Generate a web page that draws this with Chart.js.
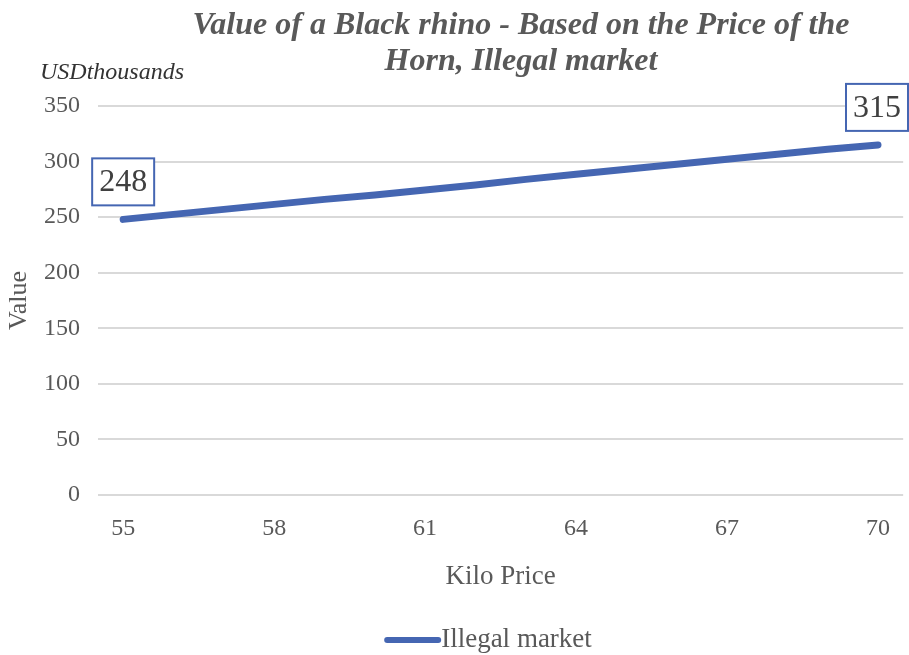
<!DOCTYPE html>
<html>
<head>
<meta charset="utf-8">
<script src="https://cdn.jsdelivr.net/npm/chart.js@4.4.1/dist/chart.umd.min.js"></script>
<style>
  html, body { margin: 0; padding: 0; background: #ffffff; }
  #wrap { width: 909px; height: 655px; position: relative; }
</style>
</head>
<body>
<div id="wrap"><canvas id="chart" width="909" height="655"></canvas></div>
<script>
// Kilo price of horn (USD) and resulting value of a black rhino (USD thousands)
const categories = ['55','56','57','58','59','60','61','62','63','64','65','66','67','68','69','70'];
const illegalMarket = [248, 252.5, 257, 261.5, 266, 270, 274.5, 279, 284, 288.5, 293, 297.5, 302, 306.5, 311, 315];
const seriesName = 'Illegal market';
const labeledIndexes = [0, 15];
const titleLines = ['Value of a Black rhino - Based on the Price of the', 'Horn, Illegal market'];
const unitText = 'USDthousands';
const xTitle = 'Kilo Price';
const yTitle = 'Value';

const SERIF = "'Liberation Serif', 'Times New Roman', serif";
const BLUE = '#4566B2';
const GREY = '#595959';

// Chart heading, unit note, boxed value labels and the series key
const annotations = {
  id: 'annotations',
  afterDraw(chart) {
    const ctx = chart.ctx;
    ctx.save();
    ctx.fillStyle = GREY;
    ctx.font = `italic bold 32px ${SERIF}`;
    ctx.textAlign = 'center';
    ctx.textBaseline = 'middle';
    titleLines.forEach((line, i) => ctx.fillText(line, 521, 26 + i * 36));

    ctx.fillStyle = '#333333';
    ctx.font = `italic 24px ${SERIF}`;
    ctx.textAlign = 'left';
    ctx.fillText(unitText, 40, 73);

    const meta = chart.getDatasetMeta(0);
    ctx.font = `32px ${SERIF}`;
    labeledIndexes.forEach(idx => {
      const pt = meta.data[idx];
      const text = String(Math.round(illegalMarket[idx]));
      const w = ctx.measureText(text).width + 14;
      const h = 47;
      let left = pt.x - w / 2;
      if (left + w > chart.width - 1) left = chart.width - 1 - w;
      const top = pt.y - 14 - h;
      ctx.fillStyle = '#ffffff';
      ctx.fillRect(left, top, w, h);
      ctx.strokeStyle = BLUE;
      ctx.lineWidth = 2;
      ctx.strokeRect(left, top, w, h);
      ctx.fillStyle = '#404040';
      ctx.textAlign = 'center';
      ctx.fillText(text, left + w / 2, top + h / 2 + 1);
    });

    // series key under the axis title
    ctx.font = `27px ${SERIF}`;
    const keyW = 57;
    const textW = ctx.measureText(seriesName).width;
    const start = 488 - (keyW + textW) / 2;
    const ky = 640;
    ctx.strokeStyle = BLUE;
    ctx.lineWidth = 6;
    ctx.lineCap = 'round';
    ctx.beginPath();
    ctx.moveTo(start + 3, ky);
    ctx.lineTo(start + keyW - 3, ky);
    ctx.stroke();
    ctx.fillStyle = GREY;
    ctx.textAlign = 'left';
    ctx.fillText(seriesName, start + keyW, ky);
    ctx.restore();
  }
};

new Chart(document.getElementById('chart'), {
  type: 'line',
  data: {
    labels: categories,
    datasets: [{
      label: seriesName,
      data: illegalMarket,
      borderColor: BLUE,
      backgroundColor: BLUE,
      borderWidth: 7,
      borderCapStyle: 'round',
      pointRadius: 0,
      pointHoverRadius: 0,
      tension: 0
    }]
  },
  options: {
    responsive: false,
    animation: false,
    layout: { padding: { top: 106, right: 0, bottom: 45, left: 0 } },
    plugins: {
      title: { display: false },
      tooltip: { enabled: false },
      legend: { display: false }
    },
    scales: {
      x: {
        offset: true,
        grid: { display: false, drawTicks: false },
        border: { display: false },
        ticks: {
          autoSkip: false,
          maxRotation: 0,
          padding: 19,
          color: GREY,
          font: { family: SERIF, size: 24 },
          callback: (v, i) => (i % 3 === 0 ? categories[i] : '')
        },
        title: {
          display: true,
          text: xTitle,
          color: GREY,
          padding: { top: 17, bottom: 17 },
          font: { family: SERIF, size: 27 }
        },
        afterFit(scale) { scale.height = 115; }
      },
      y: {
        min: 0,
        max: 350,
        grid: { color: '#d9d9d9', lineWidth: 2, drawTicks: false },
        border: { display: false },
        ticks: {
          stepSize: 50,
          padding: 18,
          color: GREY,
          font: { family: SERIF, size: 24 }
        },
        title: {
          display: true,
          text: yTitle,
          color: GREY,
          padding: { top: 4, bottom: 4 },
          font: { family: SERIF, size: 26 }
        },
        afterFit(scale) { scale.width = 98; }
      }
    }
  },
  plugins: [annotations]
});
</script>
</body>
</html>
